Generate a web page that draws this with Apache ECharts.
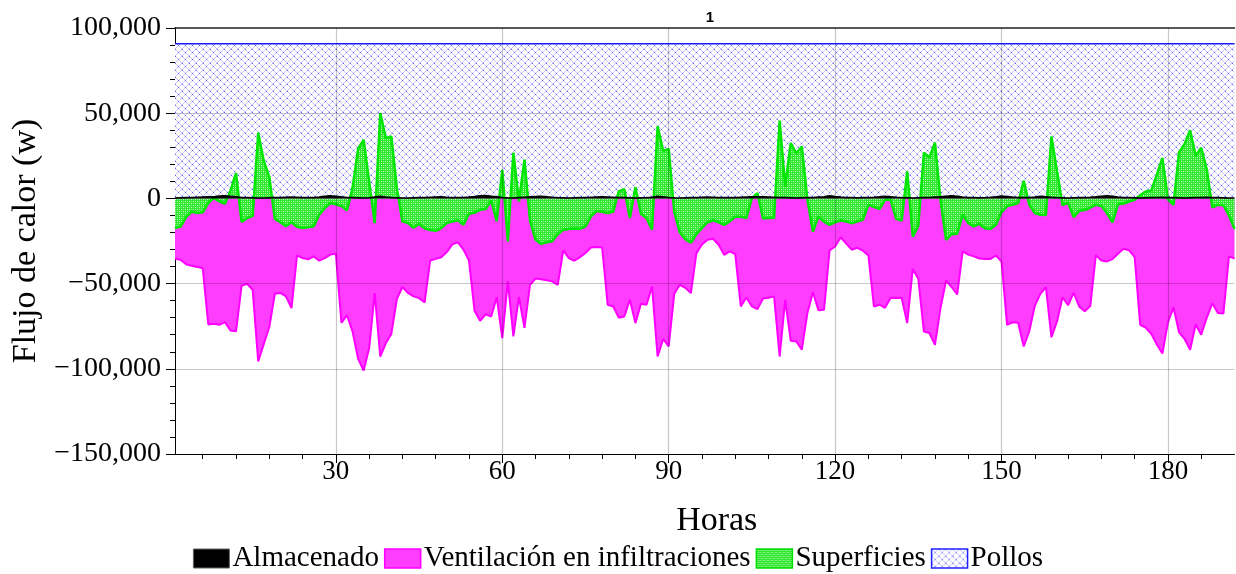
<!DOCTYPE html>
<html>
<head>
<meta charset="utf-8">
<script src="https://cdn.jsdelivr.net/npm/echarts@6/dist/echarts.min.js"></script>
<style>html,body{margin:0;padding:0;background:#fff}#c{width:1236px;height:574px}</style>
</head>
<body>
<div id="c"></div>
<script>
// ---- data (hourly, hours 1..192) ----
const ventilacion = [
-35400,-36000,-38600,-39500,-40200,-41000,-74000,-73600,-74200,-72600,-77500,-78000,-51300,-50100,-53700,-95700,-85500,-75500,-56000,-55500,
-57500,-64400,-33500,-35000,-35800,-34000,-36500,-35000,-33000,-32500,-73000,-68500,-78000,-94000,-101000,-88000,-55600,-92800,-85000,-79500,
-59000,-52000,-55500,-57500,-58500,-61000,-36500,-35500,-34500,-31500,-27000,-25800,-30000,-36500,-66000,-71800,-68000,-69300,-58000,-82000,
-48500,-81000,-57800,-76000,-50700,-47000,-47500,-48000,-48700,-50700,-30500,-35000,-36600,-34500,-32000,-28800,-28500,-28800,-62400,-63400,
-70000,-69300,-59500,-73200,-61800,-62400,-51700,-92800,-82500,-86900,-56000,-50700,-52500,-55600,-32100,-27000,-24300,-23700,-27200,-33100,
-31100,-32700,-63400,-58100,-63400,-65000,-58700,-58300,-57500,-92800,-59500,-83500,-84000,-88800,-67300,-55100,-65600,-65400,-30600,-28200,
-22800,-26500,-30100,-29000,-30700,-33500,-63400,-62400,-64200,-58500,-58300,-58500,-73200,-41400,-47200,-78100,-79000,-85900,-64400,-48200,
-52000,-56400,-31100,-33000,-34000,-35300,-35500,-35500,-33600,-37000,-74200,-72700,-73000,-86900,-78100,-63000,-56000,-52000,-81500,-72200,
-58000,-62700,-55400,-63400,-66300,-63200,-33300,-36500,-37000,-35600,-32500,-29600,-30500,-34400,-74200,-75900,-79500,-85700,-91000,-72700,
-63900,-78600,-82500,-88800,-74000,-80000,-70000,-61600,-67300,-67600,-34000,-35300
];
const superficies = [
-17400,-16500,-11000,-7800,-8600,-8200,-2700,300,-1800,-3100,4500,14900,-13800,-11500,-10400,38600,22000,12500,-12000,-14000,
-16400,-14000,-16600,-17400,-17000,-16400,-9600,-5700,-2700,-3400,-4500,-7000,6000,29000,34400,10000,-14500,50100,35400,36400,
6000,-13500,-14500,-17200,-15000,-17500,-18600,-19000,-17400,-14500,-13500,-12800,-15500,-9000,-8400,-6700,-6200,-1200,-13400,16800,
-25200,26800,-1800,22700,-13000,-24300,-26700,-25800,-25200,-21000,-18400,-18000,-17600,-17800,-16400,-10600,-7400,-7800,-8600,-7800,
4100,5400,-11500,6600,-9200,-11500,-18400,42500,28000,29000,-8000,-20000,-24000,-26000,-21000,-17500,-14000,-12800,-14000,-15500,
-13500,-10800,-10800,-11500,200,3100,-11800,-11500,-11300,45700,7000,32500,26500,30500,-500,-19400,-10600,-13700,-15500,-14000,
-12800,-13500,-14700,-13500,-12500,-3700,-5000,-6300,-800,-800,-12000,-13000,15900,-22400,-16000,26800,24000,32700,-1000,-24300,
-21000,-20800,-9600,-14500,-16400,-15000,-17500,-18000,-15500,-8000,-4500,-3700,-2700,10400,-3700,-8600,-9600,-9800,36400,16000,
-4000,-2500,-11000,-7300,-6800,-5500,-3700,-4500,-8600,-14000,-3500,-3000,-1800,-800,1800,4100,4600,14000,23700,-500,
-3800,27000,32000,40000,25000,29700,17000,-5200,-3800,-4000,-10000,-18000
];
const almacenado = [
300,400,500,600,700,800,900,1000,1400,1500,1200,900,600,500,400,300,300,400,500,600,
700,800,700,600,500,600,800,1200,1600,1300,900,600,500,400,300,400,900,1300,800,500,
400,300,300,400,500,600,700,800,900,700,600,500,600,800,1100,1500,1700,1300,900,600,
400,300,500,700,900,1100,1300,1000,700,500,400,300,400,500,600,700,800,900,800,700,
600,500,400,300,400,500,700,1200,900,600,400,300,400,500,600,700,800,700,600,500,
500,600,700,800,900,1000,900,800,700,600,500,400,300,400,500,600,800,1000,1500,1100,
800,600,500,400,500,600,700,900,1300,1000,700,500,400,300,400,500,600,800,1000,1300,
1600,1200,800,600,500,400,500,700,1000,1400,1100,800,600,500,600,800,1300,1000,700,500,
400,300,400,500,600,700,900,1300,1600,1200,800,600,500,400,300,400,500,600,700,600,
500,400,300,400,500,600,700,600,500,400,300,300
];
const pollos = [
90800,90800,90800,90800,90800,90800,90800,90800,90800,90800,90800,90800,90800,90800,90800,90800,90800,90800,90800,90800,
90800,90800,90800,90800,90800,90800,90800,90800,90800,90800,90800,90800,90800,90800,90800,90800,90800,90800,90800,90800,
90800,90800,90800,90800,90800,90800,90800,90800,90800,90800,90800,90800,90800,90800,90800,90800,90800,90800,90800,90800,
90800,90800,90800,90800,90800,90800,90800,90800,90800,90800,90800,90800,90800,90800,90800,90800,90800,90800,90800,90800,
90800,90800,90800,90800,90800,90800,90800,90800,90800,90800,90800,90800,90800,90800,90800,90800,90800,90800,90800,90800,
90800,90800,90800,90800,90800,90800,90800,90800,90800,90800,90800,90800,90800,90800,90800,90800,90800,90800,90800,90800,
90800,90800,90800,90800,90800,90800,90800,90800,90800,90800,90800,90800,90800,90800,90800,90800,90800,90800,90800,90800,
90800,90800,90800,90800,90800,90800,90800,90800,90800,90800,90800,90800,90800,90800,90800,90800,90800,90800,90800,90800,
90800,90800,90800,90800,90800,90800,90800,90800,90800,90800,90800,90800,90800,90800,90800,90800,90800,90800,90800,90800,
90800,90800,90800,90800,90800,90800,90800,90800,90800,90800,90800,90800
];
const seriesNames = ['Almacenado','Ventilación en infiltraciones','Superficies','Pollos'];
const xMajorTicks = [30,60,90,120,150,180];
const xMinorTicks = [6,12,18,24,36,42,48,54,66,72,78,84,96,102,108,114,126,132,138,144,156,162,168,174,186];
const yGridValues = [50000,-50000,-100000];
const xMin = 1, xMax = 192;

const hours = ventilacion.map((_, i) => i + 1);
const pairs = arr => hours.map((h, i) => [h, arr[i]]);

function makePattern(size, drawFn) {
  const c = document.createElement('canvas');
  c.width = size; c.height = size;
  const ctx = c.getContext('2d');
  drawFn(ctx, size);
  return { image: c, repeat: 'repeat' };
}
const greenPattern = makePattern(4, (ctx, s) => {
  ctx.fillStyle = '#2ee82e'; ctx.fillRect(0, 0, s, s);
  ctx.fillStyle = '#c8fac8'; ctx.fillRect(1, 1, 1, 1); ctx.fillRect(3, 3, 1, 1);
  ctx.fillStyle = '#88f488'; ctx.fillRect(3, 1, 1, 1); ctx.fillRect(1, 3, 1, 1);
});
const bluePattern = makePattern(7, (ctx, s) => {
  ctx.fillStyle = '#ffffff'; ctx.fillRect(0, 0, s, s);
  for (let i = 0; i < s; i++) {
    ctx.fillStyle = 'rgba(120,120,250,0.42)';
    ctx.fillRect(i, i, 1, 1);
    ctx.fillRect(i, s - 1 - i, 1, 1);
  }
  ctx.fillStyle = 'rgba(70,70,240,0.8)';
  ctx.fillRect(0, 0, 1, 1);
  ctx.fillRect(3, 3, 1, 1);
});

const FONT = 'Liberation Serif';
const fmtY = v => (v < 0 ? '\u2212' : '') + Math.abs(v).toLocaleString('en-US');

const chart = echarts.init(document.getElementById('c'), null, { renderer: 'canvas' });
chart.setOption({
  animation: false,
  backgroundColor: '#fff',
  textStyle: { fontFamily: FONT },
  title: { text: '1', left: 705, top: 5, textAlign: 'center',
    textStyle: { fontFamily: 'Liberation Sans', fontSize: 15, fontWeight: 'bold', color: '#000' } },
  grid: { left: 175, right: 1.5, top: 28, bottom: 120, containLabel: false },
  legend: {
    left: 'center', top: 539, icon: 'rect', itemWidth: 36, itemHeight: 19, itemGap: 5,
    textStyle: { fontFamily: FONT, fontSize: 29, color: '#000', padding: [0, 0, 0, -2] },
    data: [
      { name: seriesNames[0], itemStyle: { color: '#000', borderColor: '#666', borderWidth: 1 } },
      { name: seriesNames[1], itemStyle: { color: '#ff3dff', borderColor: '#ff00ff', borderWidth: 1.5 } },
      { name: seriesNames[2], itemStyle: { color: greenPattern, borderColor: '#00dd00', borderWidth: 1.5 } },
      { name: seriesNames[3], itemStyle: { color: bluePattern, borderColor: '#2020ff', borderWidth: 1.5 } }
    ]
  },
  xAxis: [
    {
      type: 'value', min: xMin, max: xMax, position: 'bottom',
      name: 'Horas', nameLocation: 'middle', nameGap: 50,
      nameTextStyle: { fontFamily: FONT, fontSize: 34, color: '#000', padding: [0, 0, 0, 24] },
      axisLine: { show: true, onZero: false, lineStyle: { color: '#000', width: 1 } },
      axisTick: { show: true, inside: false, length: 9, customValues: xMajorTicks, lineStyle: { color: '#000' } },
      axisLabel: { show: true, customValues: xMajorTicks, margin: 4, fontFamily: FONT, fontSize: 27, color: '#000' },
      splitLine: { show: false }
    },
    {
      type: 'value', min: xMin, max: xMax, position: 'bottom',
      axisLine: { show: false, onZero: false },
      axisTick: { show: true, inside: false, length: 5, customValues: xMinorTicks, lineStyle: { color: '#000' } },
      axisLabel: { show: false },
      splitLine: { show: false }
    },
    {
      type: 'value', min: xMin, max: xMax, position: 'top',
      axisLine: { show: true, onZero: false, lineStyle: { color: '#222', width: 1.5 } },
      axisTick: { show: false }, axisLabel: { show: false }, splitLine: { show: false }
    }
  ],
  yAxis: {
    type: 'value', min: -150000, max: 100000, interval: 50000,
    name: 'Flujo de calor (w)', nameLocation: 'middle', nameGap: 128,
    nameTextStyle: { fontFamily: FONT, fontSize: 34, color: '#000' },
    axisLine: { show: true, onZero: false, lineStyle: { color: '#000', width: 1 } },
    axisTick: { show: true, inside: false, length: 9, lineStyle: { color: '#000' } },
    minorTick: { show: true, splitNumber: 5, length: 5, lineStyle: { color: '#000' } },
    axisLabel: { margin: 14, fontFamily: FONT, fontSize: 28, color: '#000', formatter: fmtY },
    splitLine: { show: false }
  },
  series: [
    {
      name: seriesNames[3], type: 'line', data: pairs(pollos), showSymbol: false, z: 1,
      lineStyle: { color: '#1a1aff', width: 1.5 }, itemStyle: { color: '#1a1aff' },
      areaStyle: { color: bluePattern, opacity: 1 }
    },
    {
      name: seriesNames[1], type: 'line', data: pairs(ventilacion), showSymbol: false, z: 2,
      lineStyle: { color: '#ff00ff', width: 2 }, itemStyle: { color: '#ff3dff' },
      areaStyle: { color: '#ff3dff', opacity: 1 }
    },
    {
      name: seriesNames[2], type: 'line', data: pairs(superficies), showSymbol: false, z: 3,
      lineStyle: { color: '#00e600', width: 2.5 }, itemStyle: { color: '#2ee82e' },
      areaStyle: { color: greenPattern, opacity: 1 }
    },
    {
      name: seriesNames[0], type: 'line', data: pairs(almacenado), showSymbol: false, z: 4,
      lineStyle: { color: '#000', width: 1.5 }, itemStyle: { color: '#000' },
      areaStyle: { color: '#000', opacity: 1 },
      markLine: {
        silent: true, symbol: 'none', label: { show: false }, animation: false,
        lineStyle: { color: 'rgba(0,0,0,0.22)', width: 1.2, type: 'solid' },
        data: xMajorTicks.map(v => ({ xAxis: v })).concat(yGridValues.map(v => ({ yAxis: v })))
      }
    }
  ]
});
</script>
</body>
</html>
